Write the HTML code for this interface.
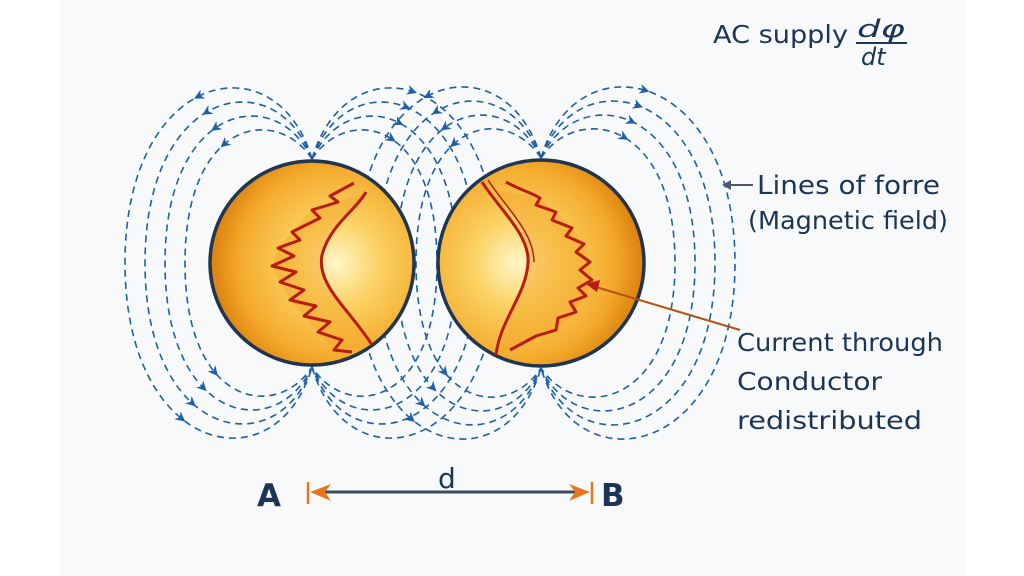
<!DOCTYPE html>
<html><head><meta charset="utf-8"><style>
html,body{margin:0;padding:0;background:#fff;}
body{width:1024px;height:576px;overflow:hidden;position:relative;}
#paper{position:absolute;left:60px;top:0;width:905px;height:576px;background:#f8f9fa;}
svg{position:absolute;left:0;top:0;}
text{font-family:"DejaVu Sans","Liberation Sans",sans-serif;fill:#1c3556;}
</style></head><body>
<div id="paper"></div>
<svg id="s" width="1024" height="576" viewBox="0 0 1024 576">
<defs>
<radialGradient id="gL" cx="0.62" cy="0.5" r="0.6">
<stop offset="0" stop-color="#fff6c8"/><stop offset="0.35" stop-color="#fbd264"/><stop offset="0.8" stop-color="#f3a92a"/><stop offset="1" stop-color="#de8512"/></radialGradient>
<radialGradient id="gR" cx="0.38" cy="0.5" r="0.6">
<stop offset="0" stop-color="#fff6c8"/><stop offset="0.35" stop-color="#fbd264"/><stop offset="0.8" stop-color="#f3a92a"/><stop offset="1" stop-color="#de8512"/></radialGradient>
</defs>
<g id="field" fill="none" stroke="#1d5fa8" stroke-width="1.6" stroke-dasharray="7 5"></g>
<g id="arrows" fill="#1d5fa8"></g>
<circle cx="312" cy="263" r="102" fill="url(#gL)" stroke="#1f3550" stroke-width="3.5"/>
<circle cx="541" cy="263" r="103" fill="url(#gR)" stroke="#1f3550" stroke-width="3.5"/>
<path d="M338 202 L312 210 L292 232 L278 248 L272 266 L280 282 L290 300 L304 316 L318 332 L334 350 L372 345 C350 310 316 285 322 255 C330 225 356 210 366 192 Z" fill="#f3a72a" opacity="0.5"/>
<path d="M354 183 L330 196 L338 202 L312 210 L320 218 L292 232 L300 240 L278 248 L294 256 L272 266 L296 272 L280 282 L304 290 L290 300 L316 306 L304 316 L330 322 L318 332 L342 340 L334 350 L352 352" fill="none" stroke="#b81c10" stroke-width="3" stroke-linejoin="round"/>
<path d="M366 192 C356 210 330 225 322 255 C316 285 350 310 372 345" fill="none" stroke="#b81c10" stroke-width="3"/>
<path d="M540 198 L556 212 L572 228 L584 244 L590 262 L592 280 L586 296 L576 312 L556 330 L510 350 L500 352 C504 320 526 295 528 263 C530 235 510 210 496 190 Z" fill="#f3a72a" opacity="0.5"/>
<path d="M506 182 C520 190 530 192 540 198 L536 205 L556 212 L552 220 L572 228 L566 236 L584 244 L576 252 L590 262 L580 270 L592 280 L578 288 L586 296 L570 302 L576 312 L558 318 L556 330 L536 336 L510 350" fill="none" stroke="#b81c10" stroke-width="3" stroke-linejoin="round"/>
<path d="M482 182 C500 210 530 235 528 263 C526 295 500 320 496 355" fill="none" stroke="#b81c10" stroke-width="3"/>
<path d="M488 180 C506 208 534 232 534 262" fill="none" stroke="#b81c10" stroke-width="1.5"/>
<line x1="740" y1="330" x2="596" y2="287" stroke="#b8520f" stroke-width="2"/>
<polygon points="586,284 600,280 597,292" fill="#b81c10"/>
<line x1="753" y1="185" x2="727" y2="185" stroke="#4a5a6e" stroke-width="2"/>
<polygon points="722,185 731,180 731,190" fill="#4a5a6e"/>
<line x1="318" y1="492" x2="586" y2="492" stroke="#3b4a5e" stroke-width="3"/>
<line x1="308" y1="482" x2="308" y2="504" stroke="#e6761c" stroke-width="2.5"/>
<line x1="592" y1="482" x2="592" y2="504" stroke="#e6761c" stroke-width="2.5"/>
<polygon points="310,492 331,484 325,492 331,501" fill="#e6761c"/>
<polygon points="590,492 569,484 575,492 569,501" fill="#e6761c"/>
<text x="438" y="488" font-size="28">d</text>
<text x="257" y="506" font-size="31" font-weight="bold">A</text>
<text x="601" y="506" font-size="31" font-weight="bold">B</text>
<text x="713" y="43" font-size="25" textLength="135" lengthAdjust="spacingAndGlyphs">AC supply</text>
<text x="857" y="37" font-size="24" font-style="italic" textLength="48" lengthAdjust="spacingAndGlyphs">dφ</text>
<line x1="856" y1="43" x2="907" y2="43" stroke="#1c3556" stroke-width="2"/>
<text x="861" y="65" font-size="24" font-style="italic">dt</text>
<text x="757" y="194" font-size="26" textLength="183" lengthAdjust="spacingAndGlyphs">Lines of forre</text>
<text x="748" y="229" font-size="25" textLength="200" lengthAdjust="spacingAndGlyphs">(Magnetic field)</text>
<text x="737" y="351" font-size="25" textLength="206" lengthAdjust="spacingAndGlyphs">Current through</text>
<text x="737" y="390" font-size="25" textLength="145" lengthAdjust="spacingAndGlyphs">Conductor</text>
<text x="737" y="429" font-size="25" textLength="185" lengthAdjust="spacingAndGlyphs">redistributed</text>
</svg>
<script>
var ns="http://www.w3.org/2000/svg",F=document.getElementById('field'),A=document.getElementById('arrows');
function add(d,at){var p=document.createElementNS(ns,'path');p.setAttribute('d',d);F.appendChild(p);
 var L=p.getTotalLength();at.forEach(function(f){var a=p.getPointAtLength(L*f),b=p.getPointAtLength(L*f+1);
 var ang=Math.atan2(b.y-a.y,b.x-a.x)*180/Math.PI;var t=document.createElementNS(ns,'polygon');
 t.setAttribute('points','5,0 -5,-5 -2,0 -5,5');t.setAttribute('transform','translate('+a.x+','+a.y+') rotate('+ang+')');A.appendChild(t);});}
var C=[[312,263,102],[541,263,103]];
C.forEach(function(c,ci){var cx=c[0],cy=c[1],top=cy-c[2]-2,bot=cy+c[2]+2;
 [-1,1].forEach(function(s){
  var Ws=(ci==0&&s<0)?[187,167,147,127]:(ci==1&&s>0?[194,174,154,134]:[185,165,145,125]);
  var Hs=[120,98,76,54];
  for(var k=0;k<4;k++){var W=Ws[k],H=Hs[k];
   var d='M'+cx+','+top+' C'+(cx+s*35)+','+(top-H)+' '+(cx+s*W)+','+(top-H*0.75)+' '+(cx+s*W)+','+cy+
     ' C'+(cx+s*W)+','+(bot+H*0.75)+' '+(cx+s*35)+','+(bot+H)+' '+cx+','+bot;
   add(d,s<0?[0.22,0.75]:[0.2]);}
 });});
</script>
</body></html>
